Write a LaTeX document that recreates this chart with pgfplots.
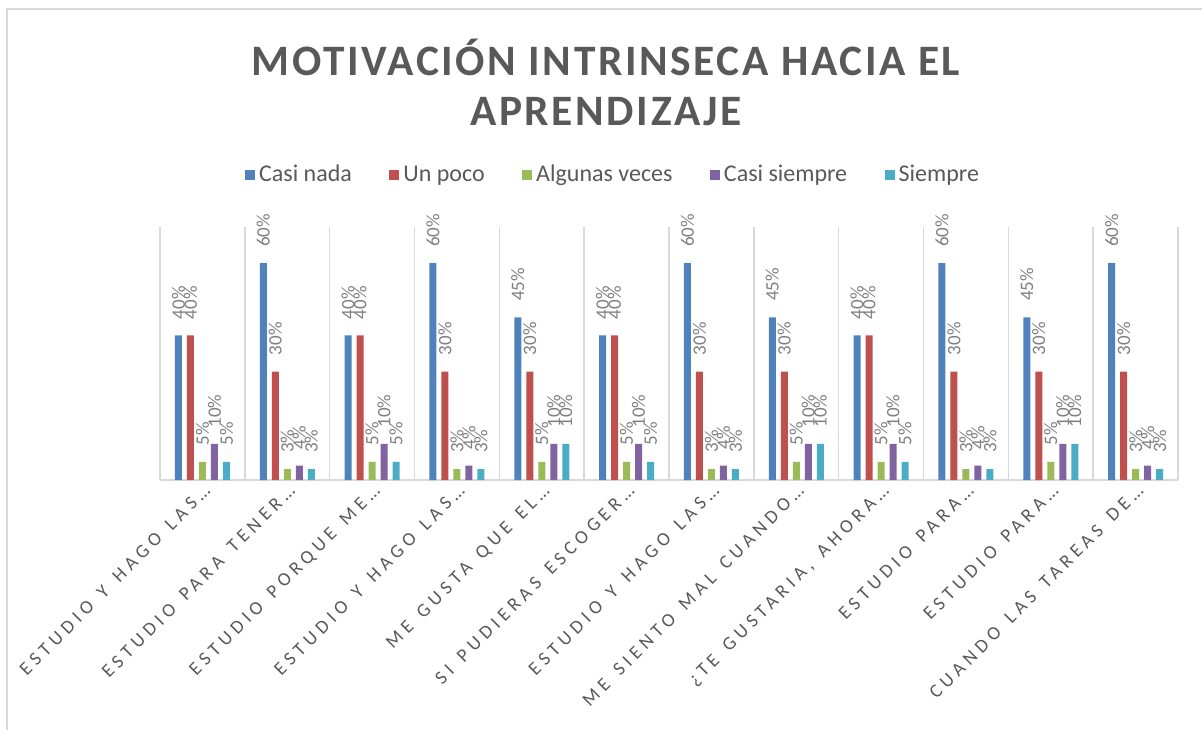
\documentclass[border=0pt]{standalone}
\usepackage{fontspec}
\setmainfont{Carlito}
\newfontfamily\titlefont{Carlito}[LetterSpace=6]
\newfontfamily\tickfont{Carlito}[LetterSpace=25, WordSpace=1.4]
\usepackage{pgfplots}
\pgfplotsset{compat=1.18}
\usepackage{pgfplotstable}
\definecolor{cA}{HTML}{4F81BD}
\definecolor{cB}{HTML}{C0504D}
\definecolor{cC}{HTML}{9BBB59}
\definecolor{cD}{HTML}{8064A2}
\definecolor{cE}{HTML}{4BACC6}
\definecolor{txt}{HTML}{595959}
\definecolor{lbl}{HTML}{808080}
\definecolor{grd}{HTML}{D9D9D9}

% percent per item and answer
\pgfplotstableread{
x  nada poco algunas casi siempre
1  40   40   5       10   5
2  60   30   3       4    3
3  40   40   5       10   5
4  60   30   3       4    3
5  45   30   5       10   10
6  40   40   5       10   5
7  60   30   3       4    3
8  45   30   5       10   10
9  40   40   5       10   5
10 60   30   3       4    3
11 45   30   5       10   10
12 60   30   3       4    3
}\datatable

\begin{document}
\begin{tikzpicture}
\useasboundingbox (0pt,0pt) rectangle (601pt,-364.5pt);
\draw[grd, line width=0.8pt] (3.5pt,-370pt) -- (3.5pt,-4.5pt) -- (610pt,-4.5pt);
\node[align=center, text=txt, font={\titlefont\bfseries\fontsize{21.7}{25}\selectfont}]
  at (303pt,-41pt) {MOTIVACIÓN INTRINSECA HACIA EL\\APRENDIZAJE};
\begin{axis}[
  at={(80pt,-240pt)}, anchor=south west,
  scale only axis,
  width=509pt, height=126.5pt,
  ybar, bar width=3.5pt, ybar=2.5pt,
  xmin=0.5, xmax=12.5, ymin=0, ymax=70,
  axis y line=none,
  axis x line*=bottom,
  x axis line style={grd, line width=0.8pt},
  xtick={1,...,12},
  xticklabels={
    {ESTUDIO Y HAGO LAS…},
    {ESTUDIO PARA TENER…},
    {ESTUDIO PORQUE ME…},
    {ESTUDIO Y HAGO LAS…},
    {ME GUSTA QUE EL…},
    {SI PUDIERAS ESCOGER…},
    {ESTUDIO Y HAGO LAS…},
    {ME SIENTO MAL CUANDO…},
    {¿TE GUSTARIA, AHORA…},
    {ESTUDIO PARA…},
    {ESTUDIO PARA…},
    {CUANDO LAS TAREAS DE…}},
  xticklabel style={rotate=45, anchor=north east, font=\tickfont\fontsize{9.5}{10}\selectfont, text=txt, inner sep=1pt},
  minor xtick={0.5,1.5,...,12.5},
  xminorgrids,
  minor grid style={grd, line width=0.8pt},
  major tick length=0pt, minor tick length=0pt,
  nodes near coords={\pgfmathprintnumber[assume math mode=true]{\pgfplotspointmeta}\%},
  every node near coord/.append style={rotate=90, anchor=west, font=\fontsize{9.5}{10}\selectfont, text=lbl, inner xsep=8pt, inner ysep=0pt},
  legend columns=5,
  legend style={at={(0.446,1.206)}, anchor=center, draw=none, fill=none,
    font=\fontsize{12}{14}\selectfont, text=txt,
    /tikz/every even column/.append style={column sep=16.75pt},
    nodes={inner xsep=2pt}},
  legend image code/.code={\path[#1] (0pt,-2.5pt) rectangle (5pt,2.5pt);},
]
\addplot[fill=cA, draw=none] table[x=x, y=nada] {\datatable};
\addplot[fill=cB, draw=none] table[x=x, y=poco] {\datatable};
\addplot[fill=cC, draw=none] table[x=x, y=algunas] {\datatable};
\addplot[fill=cD, draw=none] table[x=x, y=casi] {\datatable};
\addplot[fill=cE, draw=none] table[x=x, y=siempre] {\datatable};
\legend{Casi nada, Un poco, Algunas veces, Casi siempre, Siempre}
\end{axis}
\end{tikzpicture}
\end{document}
